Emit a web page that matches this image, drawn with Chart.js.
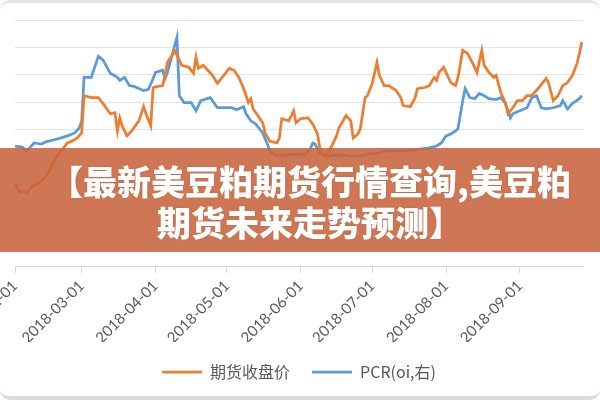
<!DOCTYPE html>
<html>
<head>
<meta charset="utf-8">
<script src="https://cdn.jsdelivr.net/npm/chart.js@4.4.1/dist/chart.umd.min.js"></script>
<style>
  html, body { margin: 0; padding: 0; background: #fff; }
  #wrap { position: relative; width: 600px; height: 400px; overflow: hidden; }
  #banner {
    position: absolute; left: 0; top: 148px; width: 600px; height: 104px;
    background: rgba(200, 100, 60, 0.88);
    box-sizing: border-box; padding: 12px 0 0 20px;
    text-align: center; color: #fff;
    font-family: "Noto Sans CJK SC", sans-serif; font-weight: 900;
    font-size: 34px; line-height: 41px;
    text-shadow: 0 0 2px rgba(0, 0, 0, 0.15);
  }
  #frame {
    position: absolute; inset: 0; pointer-events: none;
    border-top: 3px solid #e6e6e6; border-bottom: 4px solid #dcdcdc;
    border-radius: 10px;
  }
</style>
</head>
<body>
<div id="wrap">
  <canvas id="myChart" width="600" height="400"></canvas>
  <div id="banner">【最新美豆粕期货行情查询,美豆粕<br>期货未来走势预测】</div>
  <div id="frame"></div>
</div>
<script>
// month ticks on the x axis
const monthTicks = ["2018-02-01", "2018-03-01", "2018-04-01", "2018-05-01",
  "2018-06-01", "2018-07-01", "2018-08-01", "2018-09-01"];
const axisEnd = "2018-09-27";

// 期货收盘价 (left axis)
const priceDates = ["2018-02-01", "2018-02-03", "2018-02-05", "2018-02-06", "2018-02-08", "2018-02-10",
  "2018-02-12", "2018-02-14", "2018-02-16", "2018-02-18", "2018-02-21", "2018-02-23", "2018-02-25",
  "2018-02-27", "2018-03-01", "2018-03-02", "2018-03-05", "2018-03-08", "2018-03-10", "2018-03-13",
  "2018-03-15", "2018-03-16", "2018-03-17", "2018-03-18", "2018-03-20", "2018-03-22", "2018-03-25",
  "2018-03-27", "2018-03-28", "2018-03-30", "2018-03-31", "2018-04-02", "2018-04-04", "2018-04-05",
  "2018-04-06", "2018-04-08", "2018-04-09", "2018-04-11", "2018-04-12", "2018-04-15", "2018-04-17",
  "2018-04-18", "2018-04-19", "2018-04-21", "2018-04-23", "2018-04-25", "2018-04-27", "2018-04-29",
  "2018-05-02", "2018-05-04", "2018-05-06", "2018-05-08", "2018-05-10", "2018-05-11", "2018-05-12",
  "2018-05-14", "2018-05-16", "2018-05-17", "2018-05-19", "2018-05-22", "2018-05-23", "2018-05-24",
  "2018-05-27", "2018-05-29", "2018-05-30", "2018-06-01", "2018-06-04", "2018-06-05", "2018-06-06",
  "2018-06-08", "2018-06-09", "2018-06-11", "2018-06-12", "2018-06-14", "2018-06-16", "2018-06-17",
  "2018-06-20", "2018-06-22", "2018-06-23", "2018-06-25", "2018-06-26", "2018-06-28", "2018-06-29",
  "2018-07-01", "2018-07-03", "2018-07-04", "2018-07-06", "2018-07-08", "2018-07-11", "2018-07-13",
  "2018-07-14", "2018-07-17", "2018-07-19", "2018-07-20", "2018-07-23", "2018-07-25", "2018-07-27",
  "2018-07-28", "2018-07-29", "2018-07-31", "2018-08-01", "2018-08-03", "2018-08-05", "2018-08-06",
  "2018-08-08", "2018-08-10", "2018-08-12", "2018-08-14", "2018-08-16", "2018-08-17", "2018-08-19",
  "2018-08-21", "2018-08-22", "2018-08-24", "2018-08-26", "2018-08-27", "2018-08-29", "2018-08-31",
  "2018-09-02", "2018-09-04", "2018-09-06", "2018-09-09", "2018-09-12", "2018-09-13", "2018-09-15",
  "2018-09-17", "2018-09-19", "2018-09-21", "2018-09-23", "2018-09-25", "2018-09-26", "2018-09-27"];
const priceValues = [2999, 2969, 2973, 2966, 2991, 2999,
  3010, 3028, 3058, 3095, 3128, 3150, 3157,
  3168, 3187, 3323, 3316, 3316, 3294, 3257,
  3261, 3194, 3242, 3213, 3176, 3194, 3231,
  3283, 3257, 3213, 3353, 3357, 3360, 3397,
  3445, 3471, 3489, 3453, 3434, 3427, 3405,
  3464, 3423, 3434, 3416, 3397, 3368, 3390,
  3423, 3416, 3390, 3349, 3298, 3312, 3275,
  3250, 3224, 3187, 3157, 3150, 3168, 3239,
  3231, 3268, 3224, 3239, 3242, 3231, 3220,
  3183, 3132, 3102, 3109, 3139, 3176, 3205,
  3250, 3231, 3168, 3183, 3202, 3316, 3323,
  3368, 3445, 3397, 3360, 3360, 3342, 3316,
  3287, 3283, 3316, 3349, 3353, 3360, 3390,
  3379, 3408, 3427, 3408, 3371, 3360, 3390,
  3489, 3478, 3445, 3408, 3489, 3434, 3408,
  3390, 3397, 3335, 3294, 3257, 3279, 3305,
  3305, 3323, 3323, 3353, 3386, 3371, 3305,
  3323, 3360, 3371, 3397, 3441, 3478, 3519];

// PCR(oi) (right axis)
const pcrDates = ["2018-02-01", "2018-02-04", "2018-02-06", "2018-02-09", "2018-02-12", "2018-02-14",
  "2018-02-17", "2018-02-20", "2018-02-23", "2018-02-25", "2018-02-26", "2018-02-28", "2018-03-01",
  "2018-03-02", "2018-03-05", "2018-03-08", "2018-03-10", "2018-03-13", "2018-03-16", "2018-03-17",
  "2018-03-19", "2018-03-21", "2018-03-23", "2018-03-25", "2018-03-27", "2018-03-29", "2018-03-31",
  "2018-04-01", "2018-04-04", "2018-04-05", "2018-04-06", "2018-04-10", "2018-04-11", "2018-04-13",
  "2018-04-16", "2018-04-18", "2018-04-20", "2018-04-24", "2018-04-27", "2018-04-29", "2018-05-03",
  "2018-05-05", "2018-05-08", "2018-05-09", "2018-05-11", "2018-05-13", "2018-05-16", "2018-05-18",
  "2018-05-19", "2018-05-21", "2018-05-25", "2018-05-30", "2018-06-03", "2018-06-05", "2018-06-06",
  "2018-06-07", "2018-06-09", "2018-06-12", "2018-06-15", "2018-06-19", "2018-06-22", "2018-06-25",
  "2018-06-29", "2018-07-03", "2018-07-07", "2018-07-13", "2018-07-17", "2018-07-21", "2018-07-25",
  "2018-07-28", "2018-07-30", "2018-08-01", "2018-08-03", "2018-08-05", "2018-08-06", "2018-08-08",
  "2018-08-09", "2018-08-11", "2018-08-13", "2018-08-15", "2018-08-17", "2018-08-19", "2018-08-22",
  "2018-08-24", "2018-08-26", "2018-08-28", "2018-08-29", "2018-09-01", "2018-09-04", "2018-09-06",
  "2018-09-08", "2018-09-10", "2018-09-12", "2018-09-15", "2018-09-18", "2018-09-19", "2018-09-21",
  "2018-09-23", "2018-09-26", "2018-09-27"];
const pcrValues = [0.739, 0.735, 0.721, 0.750, 0.746, 0.754,
  0.761, 0.768, 0.776, 0.783, 0.787, 0.805, 0.831,
  0.990, 0.990, 1.067, 1.053, 1.005, 0.990, 0.979,
  0.990, 0.960, 0.957, 0.949, 0.942, 0.946, 0.986,
  1.008, 1.016, 0.986, 1.008, 1.137, 0.923, 0.898,
  0.898, 0.868, 0.905, 0.916, 0.879, 0.879, 0.879,
  0.872, 0.883, 0.857, 0.831, 0.820, 0.787, 0.746,
  0.721, 0.706, 0.706, 0.709, 0.709, 0.728, 0.750,
  0.746, 0.713, 0.702, 0.706, 0.706, 0.702, 0.702,
  0.709, 0.713, 0.721, 0.721, 0.724, 0.728, 0.732,
  0.739, 0.750, 0.776, 0.783, 0.794, 0.802, 0.905,
  0.949, 0.916, 0.912, 0.931, 0.923, 0.912, 0.909,
  0.916, 0.894, 0.842, 0.857, 0.868, 0.879, 0.916,
  0.923, 0.879, 0.875, 0.879, 0.887, 0.905, 0.875,
  0.894, 0.912, 0.923];

const seriesNames = ["期货收盘价", "PCR(oi,右)"];
const seriesColors = ["#ED7D31", "#5B9BD5"];

// days since the first month tick
const startMs = Date.parse(monthTicks[0] + "T00:00:00Z");
const dayOf = (s) => (Date.parse(s + "T00:00:00Z") - startMs) / 86400000;
const toPoints = (dates, values) => dates.map((d, i) => ({ x: dayOf(d), y: values[i] }));

const tickDays = monthTicks.map(dayOf);
const labelFont = { family: "Lato, 'Noto Sans CJK SC', sans-serif", size: 15 };

const ctx = document.getElementById("myChart").getContext("2d");
new Chart(ctx, {
  type: "line",
  data: {
    datasets: [
      {
        label: seriesNames[0],
        data: toPoints(priceDates, priceValues),
        borderColor: seriesColors[0],
        backgroundColor: seriesColors[0],
        borderWidth: 2.75,
        pointRadius: 0,
        yAxisID: "y",
      },
      {
        label: seriesNames[1],
        data: toPoints(pcrDates, pcrValues),
        borderColor: seriesColors[1],
        backgroundColor: seriesColors[1],
        borderWidth: 2.75,
        pointRadius: 0,
        yAxisID: "y1",
      },
    ],
  },
  options: {
    responsive: false,
    animation: false,
    layout: { padding: { left: 15, right: 17, top: 20, bottom: 10 } },
    plugins: {
      tooltip: { enabled: false },
      legend: {
        position: "bottom",
        labels: {
          usePointStyle: true,
          pointStyle: "line",
          pointStyleWidth: 40,
          padding: 22,
          color: "#595959",
          font: { family: "'Noto Sans CJK SC', Lato, sans-serif", size: 16 },
        },
      },
    },
    scales: {
      x: {
        type: "linear",
        min: 0,
        max: dayOf(axisEnd) + 0.5,
        afterBuildTicks: (scale) => {
          scale.ticks = tickDays.map((v) => ({ value: v }));
        },
        afterFit: (scale) => {
          scale.paddingLeft = 0;
          scale.paddingRight = 0;
          scale.height = 76;
        },
        ticks: {
          autoSkip: false,
          minRotation: 45,
          maxRotation: 45,
          padding: 4,
          color: "#595959",
          font: labelFont,
          callback: (value) => monthTicks[tickDays.indexOf(value)],
        },
        grid: { drawOnChartArea: false, tickLength: 7, color: "#d9d9d9" },
        border: { color: "#d9d9d9" },
      },
      y: {
        position: "left",
        min: 2700,
        max: 3600,
        ticks: { display: false, stepSize: 100 },
        grid: { color: "#e3e3e3", drawTicks: false },
        border: { display: false },
        afterFit: (scale) => {
          scale.width = 0;
        },
      },
      y1: {
        position: "right",
        display: false,
        min: 0.3,
        max: 1.2,
      },
    },
  },
});
</script>
</body>
</html>
